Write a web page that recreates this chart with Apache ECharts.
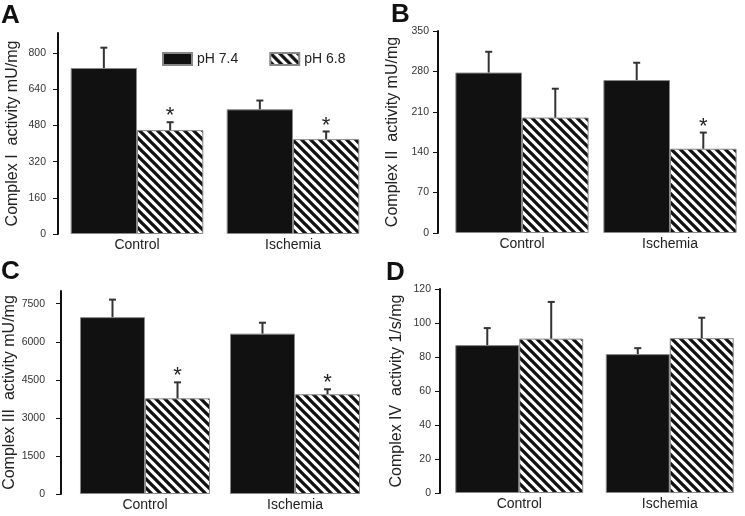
<!DOCTYPE html>
<html><head><meta charset="utf-8">
<script src="https://cdn.jsdelivr.net/npm/echarts@6/dist/echarts.min.js"></script>
<style>html,body{margin:0;padding:0;background:#fff}#c{width:745px;height:516px}</style>
</head><body><div id="c"></div>
<script>
// ---- data ----
const categories = ['Control', 'Ischemia'];
const seriesNames = ['pH 7.4', 'pH 6.8'];
const panelLetters = ['A', 'B', 'C', 'D'];
const yNames = ['Complex I  activity mU/mg', 'Complex II  activity mU/mg', 'Complex III  activity mU/mg', 'Complex IV  activity 1/s/mg'];
// Panel A - Complex I
const aPh74 = [735, 552];   const aPh74Err = [90, 39];
const aPh68 = [460, 420];   const aPh68Err = [35, 34];
const aSig = [true, true];
const aTicks = [0, 160, 320, 480, 640, 800];
// Panel B - Complex II
const bPh74 = [278, 265];   const bPh74Err = [36, 30];
const bPh68 = [200, 146];   const bPh68Err = [50, 28];
const bSig = [false, true];
const bTicks = [0, 70, 140, 210, 280, 350];
// Panel C - Complex III
const cPh74 = [6970, 6320]; const cPh74Err = [690, 430];
const cPh68 = [3770, 3930]; const cPh68Err = [630, 197];
const cSig = [true, true];
const cTicks = [0, 1500, 3000, 4500, 6000, 7500];
// Panel D - Complex IV
const dPh74 = [87, 81.7];   const dPh74Err = [10, 3.5];
const dPh68 = [90.8, 91.1]; const dPh68Err = [21.6, 12];
const dSig = [false, false];
const dTicks = [0, 20, 40, 60, 80, 100, 120];

// ---- layout / style ----
const FONT = '"Liberation Sans", Arial, Helvetica, sans-serif';
function makeHatch() {
  const s = 9;
  const c = document.createElement('canvas');
  c.width = s; c.height = s;
  const g = c.getContext('2d');
  g.fillStyle = '#fff'; g.fillRect(0, 0, s, s);
  g.strokeStyle = '#111'; g.lineWidth = 3.3;
  g.beginPath();
  for (const k of [-s, 0, s]) { g.moveTo(k - 3, -3); g.lineTo(k + s + 3, s + 3); }
  g.stroke();
  return { image: c, repeat: 'repeat' };
}
const hatch = makeHatch();

const panels = [
  { p74: aPh74, e74: aPh74Err, p68: aPh68, e68: aPh68Err, sig: aSig, ticks: aTicks, max: 890,
    grid: { left: 59, top: 33, width: 312, height: 201 }, offset: 1, gap: 0.15, nameGap: 37, lblMargin: 12 },
  { p74: bPh74, e74: bPh74Err, p68: bPh68, e68: bPh68Err, sig: bSig, ticks: bTicks, max: 350,
    grid: { left: 448, top: 31, width: 296, height: 202 }, offset: 10, gap: 0.10, nameGap: 37, lblMargin: 9 },
  { p74: cPh74, e74: cPh74Err, p68: cPh68, e68: cPh68Err, sig: cSig, ticks: cTicks, max: 8000,
    grid: { left: 70, top: 291, width: 300, height: 203 }, offset: 9, gap: 0.133, nameGap: 42, lblMargin: 16 },
  { p74: dPh74, e74: dPh74Err, p68: dPh68, e68: dPh68Err, sig: dSig, ticks: dTicks, max: 120,
    grid: { left: 444, top: 289, width: 313, height: 204 }, offset: 4, gap: 0.15, nameGap: 35, lblMargin: 9 }
];

const grids = [], xAxes = [], yAxes = [], series = [], titles = [];
const letterPos = [[1, 3], [391, 2], [1, 259], [386, 260]];

function errSeries(pi, vals, errs, sigs, side, gap) {
  return {
    type: 'custom', xAxisIndex: pi, yAxisIndex: pi, z: 5, silent: true,
    data: vals.map((v, i) => [i, v, errs[i], sigs[i] ? 1 : 0]),
    renderItem(params, api) {
      const base = api.coord([api.value(0), api.value(1)]);
      const top = api.coord([api.value(0), api.value(1) + api.value(2)]);
      const catW = api.size([1, 0])[0];
      const bw = catW * (1 - gap) / 2;
      const x = base[0] + side * bw / 2;
      const st = { stroke: '#333', lineWidth: 2 };
      const children = [
        { type: 'line', shape: { x1: x, y1: base[1], x2: x, y2: top[1] }, style: st },
        { type: 'line', shape: { x1: x - 3.5, y1: top[1], x2: x + 3.5, y2: top[1] }, style: st }
      ];
      if (api.value(3)) {
        children.push({ type: 'text', style: { text: '*', x: x, y: top[1] - 6, align: 'center', verticalAlign: 'middle',
          fill: '#222', font: '22px ' + FONT } });
      }
      return { type: 'group', children };
    }
  };
}

panels.forEach((p, i) => {
  grids.push(Object.assign({ containLabel: false }, p.grid));
  xAxes.push({ type: 'category', gridIndex: i, data: categories,
    axisLine: { show: false }, axisTick: { show: false },
    axisLabel: { fontSize: 14, color: '#222', fontFamily: FONT, margin: 4 } });
  yAxes.push({ type: 'value', gridIndex: i, min: 0, max: p.max, offset: p.offset,
    splitLine: { show: false },
    axisLine: { show: true, onZero: false, lineStyle: { color: '#111', width: 2 } },
    axisTick: { show: true, length: 5, customValues: p.ticks, lineStyle: { color: '#111', width: 1 } },
    axisLabel: { customValues: p.ticks, fontSize: 10.5, color: '#333', fontFamily: FONT, margin: p.lblMargin,
      formatter: v => String(v) },
    name: yNames[i], nameLocation: 'middle', nameGap: p.nameGap,
    nameTextStyle: { fontSize: 16, color: '#222', fontFamily: FONT } });
  series.push({ type: 'bar', name: seriesNames[0], xAxisIndex: i, yAxisIndex: i, data: p.p74,
    barGap: '0%', barCategoryGap: (p.gap * 100) + '%',
    itemStyle: { color: '#111', borderColor: '#888', borderWidth: 1 } });
  series.push({ type: 'bar', name: seriesNames[1], xAxisIndex: i, yAxisIndex: i, data: p.p68,
    barGap: '0%', barCategoryGap: (p.gap * 100) + '%',
    itemStyle: { color: hatch, borderColor: '#888', borderWidth: 1 } });
  series.push(errSeries(i, p.p74, p.e74, p.sig.map(() => false), -1, p.gap));
  series.push(errSeries(i, p.p68, p.e68, p.sig, 1, p.gap));
  titles.push({ text: panelLetters[i], left: letterPos[i][0], top: letterPos[i][1], padding: 0,
    textStyle: { fontSize: 26, fontWeight: 'bold', color: '#111', fontFamily: FONT } });
});

const chart = echarts.init(document.getElementById('c'), null, { renderer: 'canvas' });
chart.setOption({
  animation: false,
  backgroundColor: '#fff',
  title: titles,
  legend: { data: seriesNames, left: 162, top: 52, padding: 0, itemWidth: 29, itemHeight: 12, itemGap: 31,
    icon: 'rect', selectedMode: false,
    textStyle: { fontSize: 14, color: '#222', fontFamily: FONT } },
  grid: grids, xAxis: xAxes, yAxis: yAxes, series
});
</script></body></html>
